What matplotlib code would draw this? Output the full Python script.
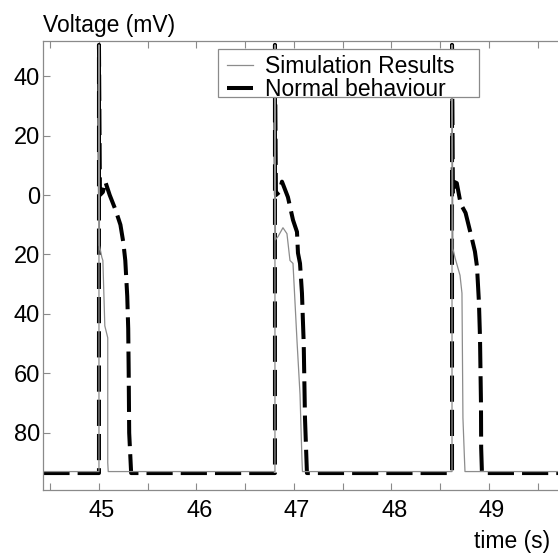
# Simulated vs normal action potentials

import matplotlib
matplotlib.use('Agg')
import matplotlib.pyplot as plt
from matplotlib.ticker import MultipleLocator, FixedLocator, FixedFormatter
from matplotlib.patches import Rectangle
import matplotlib.transforms as mtransforms

# Simulation results (thin gray trace)
sim_t = [44.43, 45.0, 45.0, 45.005, 45.03, 45.04, 45.06, 45.09, 45.09, 45.095,
         46.805, 46.805, 46.81, 46.836, 46.887, 46.928, 46.959, 46.990, 47.031,
         47.062, 47.082, 47.087,
         48.621, 48.621, 48.63, 48.651, 48.703, 48.723, 48.733, 48.749, 48.754,
         49.71]
sim_v = [-93.0, -93.0, 50.5, -17.0, -21.0, -22.0, -44.0, -48.0, -90.0, -93.0,
         -93.0, 50.5, -15.0, -14.0, -11.0, -13.0, -22.0, -23.0, -49.0,
         -67.0, -89.0, -93.0,
         -93.0, 50.5, -18.0, -21.0, -27.0, -33.0, -75.0, -89.0, -93.0,
         -93.0]

# Normal behaviour (thick dashed trace)
norm_t = [44.43, 45.0, 45.0, 45.01, 45.04, 45.065, 45.11, 45.17, 45.22, 45.25,
          45.27, 45.29, 45.30, 45.305, 45.31, 45.33,
          46.805, 46.805, 46.815, 46.85, 46.877, 46.938, 46.990, 47.031, 47.041,
          47.062, 47.082, 47.10, 47.113, 47.133,
          48.621, 48.621, 48.63, 48.645, 48.67, 48.71, 48.76, 48.82, 48.856,
          48.877, 48.897, 48.908, 48.918, 48.92, 48.928,
          49.71]
norm_v = [-93.5, -93.5, 50.5, 0.0, 1.0, 4.5, 0.0, -5.0, -10.0, -16.0,
          -22.0, -34.0, -45.0, -60.0, -80.0, -93.5,
          -93.5, 50.5, 0.0, 1.0, 4.5, -0.7, -8.4, -12.4, -19.5,
          -23.0, -33.0, -50.0, -75.0, -93.5,
          -93.5, 50.5, 0.0, 4.4, 4.0, -3.0, -6.0, -14.0, -19.0,
          -24.0, -36.0, -48.0, -70.0, -85.0, -93.5,
          -93.5]

y_ticks = [40, 20, 0, -20, -40, -60, -80]
y_tick_labels = ['40', '20', '0', '20', '40', '60', '80']
x_ticks = [45, 46, 47, 48, 49]

plt.rcParams['font.family'] = ['Liberation Sans', 'DejaVu Sans']
spine_col = '#8a8a8a'

fig = plt.figure(figsize=(5.58, 5.54), dpi=100)
ax = fig.add_axes([43 / 558, 64 / 554, 515 / 558, 449 / 554])

ax.plot(norm_t, norm_v, color='black', lw=2.9, dashes=(6.5, 2),
        label='Normal behaviour', zorder=2)
ax.plot(sim_t, sim_v, color='#8c8c8c', lw=0.9, label='Simulation Results', zorder=3)

ax.set_xlim(44.426, 49.708)
ax.set_ylim(-99.2, 51.8)

ax.xaxis.set_major_locator(FixedLocator(x_ticks))
ax.xaxis.set_minor_locator(MultipleLocator(0.5))
ax.yaxis.set_major_locator(FixedLocator(y_ticks))
ax.yaxis.set_major_formatter(FixedFormatter(y_tick_labels))

ax.tick_params(axis='both', which='both', direction='in', length=5, width=0.8,
               color=spine_col, labelsize=17, labelcolor='black')
ax.tick_params(axis='x', which='both', top=True, pad=7)
ax.tick_params(axis='y', pad=2)

# x tick labels sit a little right of their ticks
offset = mtransforms.ScaledTranslation(3 / 100, 0, fig.dpi_scale_trans)
for lab in ax.get_xticklabels():
    lab.set_transform(lab.get_transform() + offset)

ax.spines['right'].set_visible(False)
for s in ['left', 'top', 'bottom']:
    ax.spines[s].set_color(spine_col)
    ax.spines[s].set_linewidth(0.9)

# legend box drawn by hand, it is wider than the text needs
box = Rectangle((175 / 515, 393 / 449), 261 / 515, 48 / 449, transform=ax.transAxes,
                facecolor='white', edgecolor=spine_col, lw=0.9, zorder=4)
ax.add_patch(box)

handles, labels = ax.get_legend_handles_labels()
leg = ax.legend(handles[::-1], labels[::-1], loc='upper left',
                bbox_to_anchor=(184 / 515, 435 / 449), borderaxespad=0, fontsize=16.5,
                frameon=False, borderpad=0, labelspacing=0.0, handlelength=1.15,
                handletextpad=0.5)
leg.set_zorder(5)

fig.text(43 / 558, (554 - 32) / 554, 'Voltage (mV)', fontsize=16.5, va='baseline')
fig.text(550 / 558, (554 - 548) / 554, 'time (s)', fontsize=16.5, va='baseline',
         ha='right')

fig.savefig('out.png', dpi=100)
